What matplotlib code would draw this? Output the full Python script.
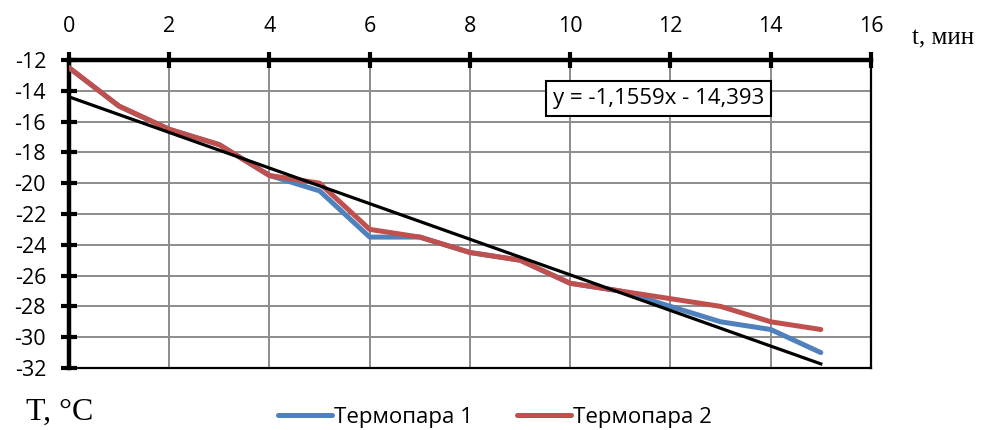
import numpy as np
import matplotlib
matplotlib.use('Agg')
import matplotlib.pyplot as plt

plt.rcParams['axes.unicode_minus'] = False

# данные: время (мин) и показания термопар (°C)
t_min = [0, 1, 2, 3, 4, 5, 6, 7, 8, 9, 10, 11, 12, 13, 14, 15]
termo1 = [-12.5, -15, -16.5, -17.5, -19.5, -20.5, -23.5, -23.5,
          -24.5, -25, -26.5, -27, -28, -29, -29.5, -31]
termo2 = [-12.5, -15, -16.5, -17.5, -19.5, -20, -23, -23.5,
          -24.5, -25, -26.5, -27, -27.5, -28, -29, -29.5]
x_ticks = [0, 2, 4, 6, 8, 10, 12, 14, 16]
y_ticks = [-12, -14, -16, -18, -20, -22, -24, -26, -28, -30, -32]

sans = ['Open Sans', 'DejaVu Sans']
serif = ['Liberation Serif', 'DejaVu Serif']

fig = plt.figure(figsize=(9.84, 4.30), dpi=100)
ax = fig.add_axes([0.0701, 0.1442, 0.815, 0.7163])

ax.plot(t_min, termo1, color='#4F81BD', lw=3.6, solid_capstyle='round', label='Термопара 1', zorder=3)
ax.plot(t_min, termo2, color='#C0504D', lw=3.6, solid_capstyle='round', label='Термопара 2', zorder=4)

# линейный тренд по термопаре 1
k, b = np.polyfit(t_min, termo1, 1)
xt = np.array([t_min[0], t_min[-1]])
ax.plot(xt, k * xt + b, color='black', lw=2.3, zorder=5)
eq = 'y = %sx - %s' % (('%.4f' % k).replace('.', ','), ('%.3f' % abs(b)).replace('.', ','))
ax.text(11.76, -14.5, eq, ha='center', va='center', fontsize=16, family=sans, zorder=6,
        bbox=dict(boxstyle='square,pad=0.3', fc='white', ec='black', lw=1.5))

ax.set_xlim(0, 16)
ax.set_ylim(-32, -12)
ax.set_xticks(x_ticks)
ax.set_yticks(y_ticks)
ax.xaxis.tick_top()
ax.grid(True, color='#8C8C8C', lw=1.4, zorder=0)
ax.set_axisbelow(True)

for s in ['top', 'left']:
    ax.spines[s].set_linewidth(3.2)
for s in ['bottom', 'right']:
    ax.spines[s].set_linewidth(1.6)

ax.tick_params(axis='both', direction='inout', length=11, width=3, labelsize=15.5, pad=11)
for lab in ax.get_xticklabels() + ax.get_yticklabels():
    lab.set_family(sans)

fig.text(0.958, 0.91, 't, мин', fontsize=18, family=serif, ha='center', va='center')
fig.text(0.061, 0.04, 'T, °C', fontsize=23, family=serif, ha='center', va='center')

leg = fig.legend(loc='center', bbox_to_anchor=(0.503, 0.03), ncol=2, frameon=False,
                 prop={'family': sans, 'size': 16}, handlelength=2.4, handletextpad=0.1,
                 columnspacing=2.0)

fig.savefig('out.png', dpi=100)
